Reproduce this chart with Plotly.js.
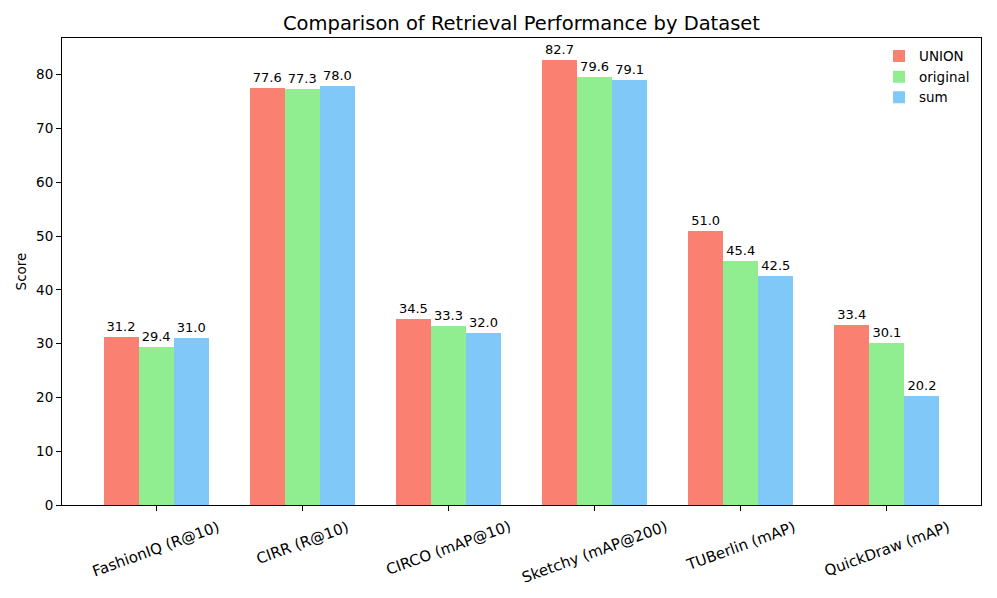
<!DOCTYPE html>
<html><head><meta charset="utf-8">
<script src="https://cdn.plot.ly/plotly-3.0.1.min.js"></script>
<style>body{margin:0;background:#fff}#c{width:997px;height:598px}</style>
</head><body><div id="c"></div>
<script>
var categories = ["FashionIQ (R@10)", "CIRR (R@10)", "CIRCO (mAP@10)", "Sketchy (mAP@200)", "TUBerlin (mAP)", "QuickDraw (mAP)"];
var seriesNames = ["UNION", "original", "sum"];
var unionVals = [31.2, 77.6, 34.5, 82.7, 51.0, 33.4];
var originalVals = [29.4, 77.3, 33.3, 79.6, 45.4, 30.1];
var sumVals = [31.0, 78.0, 32.0, 79.1, 42.5, 20.2];
var colors = ["#FA8072", "#90EE90", "#7FC8F8"];
var allVals = [unionVals, originalVals, sumVals];
var font = "DejaVu Sans, sans-serif";
var w = 0.24;
var idx = categories.map(function(_, i){return i;});
var traces = allVals.map(function(vals, k){
  return {
    type: "bar", name: seriesNames[k],
    x: idx.map(function(i){return i + (k-1)*w;}),
    y: vals, width: w,
    marker: {color: colors[k], line: {width: 0}},
    text: vals.map(function(v){return v.toFixed(1);}),
    textposition: "outside", cliponaxis: false,
    textfont: {family: font, size: 13, color: "#000"},
    hoverinfo: "skip"
  };
});
var ann = categories.map(function(c, i){
  return {x: i, y: 0, xref: "x", yref: "paper", yshift: -10, text: c, showarrow: false,
    textangle: -20, xanchor: "center", yanchor: "top", font: {family: font, size: 15, color: "#000"}};
});
var layout = {
  width: 997, height: 598,
  margin: {l: 62, r: 16, t: 38, b: 93},
  paper_bgcolor: "#fff", plot_bgcolor: "#fff",
  barmode: "overlay", bargap: 0,
  title: {text: "Comparison of Retrieval Performance by Dataset", font: {family: font, size: 19.5, color: "#000"}, x: 0.5, xref: "paper", xanchor: "center", y: 0.962, yanchor: "middle"},
  xaxis: {range: [-0.644, 5.644], tickvals: idx, ticktext: categories.map(function(){return "";}),
    ticks: "outside", ticklen: 5, tickcolor: "#000", showgrid: false, zeroline: false,
    showline: true, linecolor: "#000", linewidth: 1, mirror: true},
  yaxis: {range: [0, 86.835], dtick: 10, tick0: 0, ticks: "outside", ticklen: 5, tickcolor: "#000",
    showgrid: false, zeroline: false, showline: true, linecolor: "#000", linewidth: 1, mirror: true,
    tickfont: {family: font, size: 13.5, color: "#000"},
    title: {text: "Score", font: {family: font, size: 13.5, color: "#000"}, standoff: 6}},
  legend: {x: 0.9935, xanchor: "right", y: 0.994, yanchor: "top", bgcolor: "rgba(255,255,255,0)",
    font: {family: font, size: 13.5, color: "#000"}, tracegroupgap: 2},
  annotations: ann,
  showlegend: true
};
Plotly.newPlot("c", traces, layout, {staticPlot: true, displayModeBar: false});
</script></body></html>
